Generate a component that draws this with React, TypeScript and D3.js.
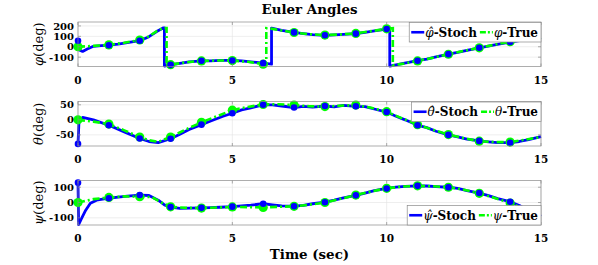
import { useEffect, useRef } from 'react';
import * as d3 from 'd3';

type Pt = [number, number];

const timeTicks = [0, 5, 10, 15];
const phiTicks = [-100, 0, 100, 200];
const thetaTicks = [-50, 0, 50];
const psiTicks = [-100, 0, 100];

// roll angle, [time (sec), deg]; the repeated times are the +-180 wraps
const phiTrue: Pt[] = [
  [0, 0], [0.5, 8], [1, 18], [1.5, 38], [2, 65], [2.3, 100], [2.55, 150], [2.75, 178], [2.87, 180],
  [2.87, -178], [3, -172], [3.5, -150], [4, -136], [4.5, -132], [5, -133], [5.5, -145], [6, -168],
  [6.1, -172], [6.1, 178], [6.3, 172], [6.6, 156], [7, 137], [7.5, 120], [8, 112], [8.5, 118], [9, 128],
  [9.5, 150], [10, 172], [10.2, 178], [10.2, -178], [10.5, -165], [11, -136], [11.5, -105], [12, -72],
  [12.5, -40], [13, -10], [13.5, 20], [14, 48], [14.5, 70], [15, 90],
];
const phiStoch: Pt[] = [
  [0, 57], [0.04, -30], [0.15, -45], [0.3, -22], [0.5, 4], [0.75, 10], [1, 15], [1.3, 26], [1.6, 40],
  [2, 58], [2.3, 97], [2.55, 146], [2.77, 182], [2.8, 182], [2.8, -186], [3, -174], [3.3, -160],
  [3.6, -146], [4, -135], [4.3, -136], [4.6, -131], [5, -132], [5.3, -136], [5.6, -145], [6, -158],
  [6.27, -168], [6.27, 180], [6.6, 157], [7, 138], [7.3, 127], [7.6, 117], [8, 110], [8.3, 114],
  [8.6, 119], [9, 126], [9.3, 138], [9.6, 152], [10, 170], [10.1, 178], [10.1, -186], [10.5, -163],
  [11, -134], [11.3, -118], [11.6, -98], [12, -71], [12.3, -54], [12.6, -34], [13, -10], [13.5, 18],
  [14, 45], [14.5, 68], [15, 88],
];

// pitch angle
const thetaTrue: Pt[] = [
  [0, 0], [0.5, -6], [1, -14], [1.5, -35], [2, -57], [2.3, -68], [2.6, -73], [3, -57], [3.5, -32],
  [4, -8], [4.5, 12], [5, 32], [5.5, 43], [6, 51], [6.5, 52], [7, 49], [7.5, 45], [8, 44], [8.5, 47],
  [9, 49], [9.5, 40], [10, 27], [10.5, 5], [11, -16], [11.5, -33], [12, -49], [12.5, -61], [13, -71],
  [13.5, -74], [14, -74], [14.5, -66], [15, -57],
];
const thetaStoch: Pt[] = [
  [0, -80], [0.03, -10], [0.15, 8], [0.5, 0], [1, -18], [1.5, -40], [2, -62], [2.3, -72], [2.6, -76],
  [3, -63], [3.3, -48], [3.6, -32], [4, -16], [4.3, -4], [4.7, 12], [5, 22], [5.3, 33], [5.6, 40],
  [6, 50], [6.3, 50], [6.6, 46], [7, 41], [7.3, 45], [7.6, 42], [8, 46], [8.3, 43], [8.6, 48], [9, 45],
  [9.3, 44], [9.6, 36], [10, 26], [10.3, 12], [10.6, 0], [11, -18], [11.3, -26], [11.6, -38], [12, -50],
  [12.3, -57], [12.6, -64], [13, -70], [13.3, -73], [13.6, -76], [14, -76], [14.3, -72], [14.6, -66],
  [15, -56],
];

// yaw angle
const psiTrue: Pt[] = [
  [0, 0], [0.5, 22], [1, 33], [1.5, 40], [2, 38], [2.4, 35], [2.7, 0], [3, -28], [3.5, -35], [4, -36],
  [4.5, -33], [5, -29], [5.5, -30], [6, -32], [6.5, -28], [7, -25], [7.5, -14], [8, 0], [8.5, 24],
  [9, 49], [9.5, 72], [10, 93], [10.5, 104], [11, 109], [11.5, 106], [12, 100], [12.5, 84], [13, 60],
  [13.5, 30], [14, -3], [14.5, -45], [15, -85],
];
const psiStoch: Pt[] = [
  [0, 130], [0.02, -145], [0.1, -110], [0.25, -50], [0.4, -5], [0.6, 15], [1, 28], [1.3, 35], [1.6, 42],
  [2, 49], [2.3, 46], [2.6, 15], [2.8, -15], [3, -30], [3.3, -38], [3.6, -37], [4, -35], [4.3, -33],
  [4.6, -31], [5, -27], [5.3, -22], [5.6, -17], [6, -8], [6.3, -15], [6.6, -22], [7, -24], [7.3, -18],
  [7.6, -8], [8, 2], [8.3, 15], [8.6, 30], [9, 47], [9.3, 62], [9.6, 78], [10, 92], [10.3, 100],
  [10.6, 106], [11, 109], [11.3, 108], [11.6, 104], [12, 100], [12.3, 92], [12.6, 78], [13, 62],
  [13.3, 45], [13.6, 25], [14, 5], [14.3, -20], [14.6, -55], [15, -90],
];

const panels = [
  { sym: 'φ', stoch: phiStoch, truth: phiTrue, ticks: phiTicks, domain: [-190, 238], top: 22, legendTop: true },
  { sym: 'θ', stoch: thetaStoch, truth: thetaTrue, ticks: thetaTicks, domain: [-87, 61], top: 101.5, legendTop: true },
  { sym: 'ψ', stoch: psiStoch, truth: psiTrue, ticks: psiTicks, domain: [-147, 144], top: 180.5, legendTop: false },
];

const BLUE = '#0000ff';
const GREEN = '#00ff00';
const FONT = '"DejaVu Serif", serif';

export default function App() {
  const svgRef = useRef<SVGSVGElement>(null);

  useEffect(() => {
    const width = 598;
    const height = 265;
    const svg = d3.select(svgRef.current).attr('width', width).attr('height', height);
    svg.selectAll('*').remove();
    svg.append('rect').attr('width', width).attr('height', height).attr('fill', 'white');

    const left = 78;
    const right = 541;
    const ph = 44.5;
    const x = d3.scaleLinear().domain([0, 15]).range([left, right]);

    svg
      .append('text')
      .text('Euler Angles')
      .attr('x', (left + right) / 2)
      .attr('y', 14)
      .attr('text-anchor', 'middle')
      .style('font-family', FONT)
      .style('font-weight', 'bold')
      .style('font-size', '13.4px');

    panels.forEach(p => {
      const bottom = p.top + ph;
      const y = d3.scaleLinear().domain(p.domain).range([bottom, p.top]);
      const g = svg.append('g');

      // grid
      g.selectAll('.gx')
        .data(timeTicks)
        .enter()
        .append('line')
        .attr('x1', d => x(d))
        .attr('x2', d => x(d))
        .attr('y1', p.top)
        .attr('y2', bottom)
        .attr('stroke', '#e3e3e3')
        .attr('stroke-width', 0.6);
      g.selectAll('.gy')
        .data(p.ticks)
        .enter()
        .append('line')
        .attr('x1', left)
        .attr('x2', right)
        .attr('y1', d => y(d))
        .attr('y2', d => y(d))
        .attr('stroke', '#e3e3e3')
        .attr('stroke-width', 0.6);

      const line = d3
        .line<Pt>()
        .x(d => x(d[0]))
        .y(d => y(d[1]));

      g.append('path')
        .attr('d', line(p.stoch))
        .attr('fill', 'none')
        .attr('stroke', BLUE)
        .attr('stroke-width', 2.8)
        .attr('stroke-linejoin', 'round');
      g.append('path')
        .attr('d', line(p.truth))
        .attr('fill', 'none')
        .attr('stroke', GREEN)
        .attr('stroke-width', 2.6)
        .attr('stroke-dasharray', '7 3 2 3');

      const marks = (pts: Pt[]) => pts.filter((d, i) => Number.isInteger(d[0]) && d[0] < 15 && (i === 0 || pts[i - 1][0] !== d[0]));

      g.selectAll('.mt')
        .data(marks(p.truth))
        .enter()
        .append('circle')
        .attr('cx', d => x(d[0]))
        .attr('cy', d => y(d[1]))
        .attr('r', 4.6)
        .attr('fill', GREEN);
      g.selectAll('.ms')
        .data(marks(p.stoch))
        .enter()
        .append('circle')
        .attr('cx', d => x(d[0]))
        .attr('cy', d => y(d[1]))
        .attr('r', 3.3)
        .attr('fill', BLUE);

      // frame and ticks
      g.append('rect')
        .attr('x', left)
        .attr('y', p.top)
        .attr('width', right - left)
        .attr('height', ph)
        .attr('fill', 'none')
        .attr('stroke', '#8a8a8a')
        .attr('stroke-width', 0.7);
      p.ticks.forEach(t => {
        [[left, left + 3], [right, right - 3]].forEach(([a, b]) =>
          g.append('line').attr('x1', a).attr('x2', b).attr('y1', y(t)).attr('y2', y(t)).attr('stroke', '#8a8a8a').attr('stroke-width', 0.7)
        );
      });
      timeTicks.forEach(t => {
        [[bottom, bottom - 3], [p.top, p.top + 3]].forEach(([a, b]) =>
          g.append('line').attr('x1', x(t)).attr('x2', x(t)).attr('y1', a).attr('y2', b).attr('stroke', '#8a8a8a').attr('stroke-width', 0.7)
        );
      });

      g.selectAll('.yl')
        .data(p.ticks)
        .enter()
        .append('text')
        .text(d => d)
        .attr('x', left - 4)
        .attr('y', d => y(d) + 3.6)
        .attr('text-anchor', 'end')
        .style('font-family', FONT)
        .style('font-weight', 'bold')
        .style('font-size', '10px');
      g.selectAll('.xl')
        .data(timeTicks)
        .enter()
        .append('text')
        .text(d => d)
        .attr('x', d => x(d))
        .attr('y', bottom + 17)
        .attr('text-anchor', 'middle')
        .style('font-family', FONT)
        .style('font-weight', 'bold')
        .style('font-size', '10.5px');

      const yl = g
        .append('text')
        .attr('transform', `translate(43,${p.top + ph / 2}) rotate(-90)`)
        .attr('text-anchor', 'middle')
        .style('font-family', FONT)
        .style('font-size', '13px');
      yl.append('tspan').text(p.sym).style('font-style', 'italic');
      yl.append('tspan').text('(deg)');

      // legend
      const lh = 19.5;
      const ly = p.legendTop ? p.top + 0.5 : bottom - lh;
      const lg = g.append('g');
      const box = lg.append('rect');
      const cy = ly + lh / 2;
      let cx = 0;
      const entry = (color: string, dash: string | null, hat: boolean, label: string) => {
        const seg = lg
          .append('line')
          .attr('x1', cx + 2)
          .attr('x2', cx + 15)
          .attr('y1', cy)
          .attr('y2', cy)
          .attr('stroke', color)
          .attr('stroke-width', 2.6);
        if (dash) seg.attr('stroke-dasharray', dash);
        const t = lg
          .append('text')
          .attr('x', cx + 16)
          .attr('y', cy + 4.3)
          .style('font-family', FONT)
          .style('font-size', '12px');
        t.append('tspan').text(hat ? `${p.sym}\u0302` : p.sym).style('font-style', 'italic');
        t.append('tspan').text(label).style('font-weight', 'bold');
        cx += 16 + (t.node() as SVGTextElement).getComputedTextLength() + 1;
      };
      entry(BLUE, null, true, '-Stoch');
      entry(GREEN, '6 2 2 2', false, '-True');
      const bw = cx + 2;
      lg.attr('transform', `translate(${right - bw},0)`);
      box
        .attr('x', 0)
        .attr('y', ly)
        .attr('width', bw)
        .attr('height', lh)
        .attr('fill', 'white')
        .attr('stroke', '#8a8a8a')
        .attr('stroke-width', 0.7);
    });

    svg
      .append('text')
      .text('Time (sec)')
      .attr('x', (left + right) / 2)
      .attr('y', 259)
      .attr('text-anchor', 'middle')
      .style('font-family', FONT)
      .style('font-weight', 'bold')
      .style('font-size', '13.4px');
  }, []);

  return <svg ref={svgRef} style={{ position: 'absolute', left: 0, top: 0 }} />;
}
